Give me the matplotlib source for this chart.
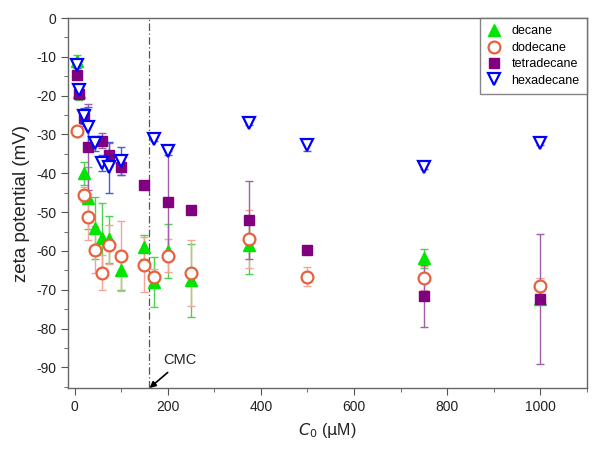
import matplotlib
matplotlib.use('Agg')
import matplotlib.pyplot as plt
from matplotlib.ticker import MultipleLocator
import numpy as np

plt.rcParams['font.family'] = ['Liberation Sans', 'DejaVu Sans']
plt.rcParams['axes.unicode_minus'] = False

CMC = 160

# decane
dec_x = [5, 10, 20, 30, 45, 60, 75, 100, 150, 170, 200, 250, 375, 750, 1000]
dec_y = [-11, -19, -40, -46.4, -54, -56.7, -57, -65, -59, -68, -60, -67.6, -58.4, -61.9, -72.5]
dec_err = [1.5, 2, 3, 8, 8, 9, 6, 5, 3, 6.5, 7, 9.5, 7.5, 2.5, 1]

# dodecane
dod_x = [5, 20, 30, 45, 60, 75, 100, 150, 170, 200, 250, 375, 500, 750, 1000]
dod_y = [-29, -45.5, -51.3, -59.7, -65.6, -58.4, -61.3, -63.5, -66.7, -61.2, -65.8, -57, -66.6, -67, -69]
dod_err = [1, 2, 6, 6, 4.5, 5, 9, 7, 2, 4.3, 8.5, 7.5, 2.5, 3, 2]

# tetradecane
tet_x = [5, 10, 20, 30, 60, 75, 100, 150, 200, 250, 375, 500, 750, 1000]
tet_y = [-14.6, -19.5, -25.7, -33.2, -31.6, -35.2, -38.5, -43, -47.3, -49.4, -52, -59.7, -71.5, -72.4]
tet_err = [1, 1, 2, 11, 2, 3, 2, 1, 13, 1, 10, 1, 8, 16.7]

# hexadecane
hex_x = [5, 10, 20, 30, 45, 60, 75, 100, 170, 200, 375, 500, 750, 1000]
hex_y = [-12, -18.5, -25.2, -28.1, -32.3, -37.4, -38.5, -36.8, -31.2, -34.2, -27, -32.7, -38.4, -32.2]
hex_err = [1, 1, 2, 5.3, 2, 2, 6.6, 3.6, 0.5, 1, 0.5, 1.5, 0.5, 0.5]

series = [
    ('decane', dec_x, dec_y, dec_err,
     dict(marker='^', color='#00e600', markerfacecolor='#00e600', markeredgecolor='#00e600', markersize=8.5), '#50d050'),
    ('dodecane', dod_x, dod_y, dod_err,
     dict(marker='o', color='#e8603c', markerfacecolor='white', markeredgecolor='#e8603c', markersize=8.5, markeredgewidth=1.6), '#f2a698'),
    ('tetradecane', tet_x, tet_y, tet_err,
     dict(marker='s', color='#800080', markerfacecolor='#800080', markeredgecolor='#800080', markersize=6.5), '#a060a8'),
    ('hexadecane', hex_x, hex_y, hex_err,
     dict(marker='v', color='#0000ff', markerfacecolor='white', markeredgecolor='#0000ff', markersize=9, markeredgewidth=1.6), '#4060e0'),
]

fig = plt.figure(figsize=(6.01, 4.51), dpi=100)
ax = fig.add_axes([68 / 601, 63 / 451, 519 / 601, 370 / 451])

handles = []
for i, (name, xs, ys, errs, style, ecol) in enumerate(series):
    ax.errorbar(xs, ys, yerr=errs, fmt='none', ecolor=ecol, elinewidth=1,
                capsize=3, capthick=1, zorder=2 + i)
    h, = ax.plot(xs, ys, linestyle='none', label=name, zorder=6 + i, **style)
    handles.append(h)

ax.axvline(CMC, color='#555555', linestyle=(0, (6, 2, 1, 2)), linewidth=0.9, zorder=1)
ax.annotate('', xy=(CMC + 1, -95.3), xytext=(CMC + 40, -91.3),
            arrowprops=dict(arrowstyle='-|>', color='black', lw=1.2,
                            shrinkA=0, shrinkB=0, mutation_scale=9))
ax.text(CMC + 30, -88, 'CMC', fontsize=10.5, ha='left', va='center', color='#222222')

ax.set_xlim(-14, 1100)
ax.set_ylim(-95.3, 0)
ax.xaxis.set_major_locator(MultipleLocator(200))
ax.xaxis.set_minor_locator(MultipleLocator(100))
ax.yaxis.set_major_locator(MultipleLocator(10))
ax.yaxis.set_minor_locator(MultipleLocator(5))
ax.set_yticks(np.arange(-90, 1, 10))
ax.tick_params(which='both', direction='out', top=False, right=False,
               colors='#555555', labelcolor='#222222', labelsize=10)
ax.tick_params(which='major', length=5)
ax.tick_params(which='minor', length=3)
for sp in ax.spines.values():
    sp.set_color('#666666')
    sp.set_linewidth(1)

ax.set_xlabel(r'$\mathit{C}_{\mathrm{0}}$ ($\mathrm{\mu}$M)', fontsize=11.5, color='#222222', labelpad=5)
ax.set_ylabel('zeta potential (mV)', fontsize=13.5, color='#222222')

leg = ax.legend(handles=handles, loc='upper right', borderaxespad=0, fontsize=9,
                frameon=True, fancybox=False, labelspacing=0.35, handlelength=1.0,
                handletextpad=0.9, borderpad=0.6)
leg.get_frame().set_edgecolor('#666666')
leg.get_frame().set_linewidth(1)

fig.savefig('out.png', dpi=100)
